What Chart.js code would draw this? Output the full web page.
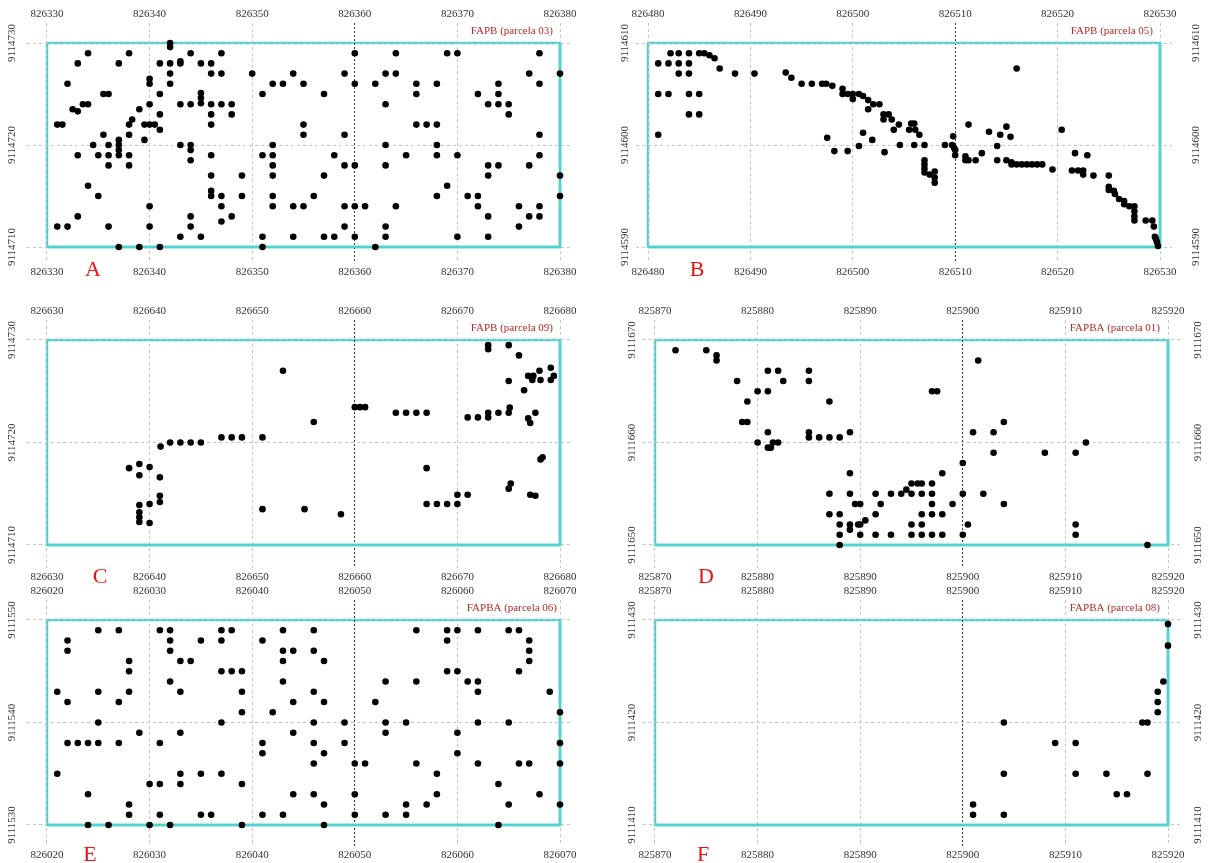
<!DOCTYPE html>
<html>
<head>
<meta charset="utf-8">
<script src="https://cdn.jsdelivr.net/npm/chart.js@4.4.0/dist/chart.umd.min.js"></script>
<style>
  body { margin: 0; background: #fff; width: 1212px; height: 863px; position: relative; overflow: hidden; }
  canvas { position: absolute; }
</style>
</head>
<body>
<canvas id="cA"></canvas>
<canvas id="cB"></canvas>
<canvas id="cC"></canvas>
<canvas id="cD"></canvas>
<canvas id="cE"></canvas>
<canvas id="cF"></canvas>
<script>
// tick labels
const ticksXA = [826330, 826340, 826350, 826360, 826370, 826380];
const ticksYA = [9114710, 9114720, 9114730];
const ticksXB = [826480, 826490, 826500, 826510, 826520, 826530];
const ticksYB = [9114590, 9114600, 9114610];
const ticksXC = [826630, 826640, 826650, 826660, 826670, 826680];
const ticksYC = [9114710, 9114720, 9114730];
const ticksXD = [825870, 825880, 825890, 825900, 825910, 825920];
const ticksYD = [9111650, 9111660, 9111670];
const ticksXE = [826020, 826030, 826040, 826050, 826060, 826070];
const ticksYE = [9111530, 9111540, 9111550];
const ticksXF = [825870, 825880, 825890, 825900, 825910, 825920];
const ticksYF = [9111410, 9111420, 9111430];

// tree positions [x, y] per plot
const parcela03 = [
  [826342,9114730],[826342,9114729.6],
  [826334,9114729],[826338,9114729],[826344,9114729],[826347,9114729],
  [826333,9114728],[826337,9114728],[826341,9114728],[826342,9114728],[826343,9114728.2],[826343,9114728],[826345,9114728],[826346,9114728],
  [826342,9114727],[826346,9114727],[826347,9114727],[826350,9114727],[826354,9114727],
  [826340,9114726.5],[826340,9114726],
  [826332,9114726],[826342,9114726],[826352,9114726],[826353,9114726],
  [826335.5,9114725],[826336,9114725],[826341,9114725],[826345,9114725.1],[826351,9114725],
  [826345,9114724.6],[826345,9114724.1],
  [826333.5,9114724],[826334,9114724],[826340,9114724],[826343,9114724],[826344,9114724],[826346,9114724],[826347,9114724],[826348,9114724],
  [826332.5,9114723.5],[826333,9114723.3],[826339,9114723.5],
  [826341,9114723],[826346,9114723],[826348,9114723],
  [826338.3,9114722.5],[826338,9114722],[826331,9114722],[826331.5,9114722],[826339.5,9114722],[826340,9114722],[826340.5,9114722],[826346,9114722],
  [826341,9114721.5],
  [826335.5,9114721],[826338,9114721],
  [826337,9114720.5],[826339.5,9114720.5],
  [826334.5,9114720],[826336,9114720],[826337,9114720],[826343,9114720],[826344,9114720],[826352,9114720],
  [826337,9114719.5],[826344,9114719.5],
  [826333,9114719],[826335,9114719],[826336,9114719],[826337,9114719],[826338,9114719],[826346,9114719],[826351,9114719],[826352,9114719],
  [826344,9114718.5],
  [826336,9114718],[826338,9114718],[826352,9114718],
  [826346,9114717],[826349,9114717],[826352,9114717],
  [826334,9114716],
  [826346,9114715.5],
  [826335,9114715],[826346,9114715],[826347,9114715],[826349,9114715],[826352,9114715],
  [826340,9114714],[826347,9114714],[826352,9114714],[826354,9114714],
  [826333,9114713],[826344,9114713],[826348,9114713],
  [826347,9114712.5],
  [826331,9114712],[826332,9114712],[826336,9114712],[826340,9114712],[826344,9114712],
  [826343,9114711],[826345,9114711],[826351,9114711],[826354,9114711],
  [826337,9114710],[826339,9114710],[826341,9114710],[826351,9114710],
  [826360,9114729],[826364,9114729],[826369,9114729],[826370,9114729],[826378,9114729],
  [826359,9114727],[826363,9114727],[826364,9114727],[826377,9114727],[826380,9114727],
  [826355,9114726],[826360,9114726],[826362,9114726],[826366,9114726],[826368,9114726],[826374,9114726],[826378,9114726],
  [826357,9114725],[826366,9114725],[826372,9114725],[826374,9114725],
  [826363,9114724],[826373,9114724],[826374,9114724],[826375,9114724],
  [826375,9114723],
  [826355,9114722],[826366,9114722],[826367,9114722],[826368,9114722],
  [826355,9114721],[826359,9114721],[826378,9114721],
  [826363,9114720],[826368,9114720],
  [826358,9114719],[826365,9114719],[826368,9114719],[826370,9114719],[826378,9114719],
  [826359,9114718],[826360,9114718],[826363,9114718],[826373,9114718],[826374,9114718],[826377,9114718],
  [826357,9114717],[826373,9114717],[826380,9114717],
  [826369,9114716],
  [826356,9114715],[826368,9114715],[826371,9114715],[826372,9114715],[826380,9114715],
  [826355,9114714],[826359,9114714],[826360,9114714],[826361,9114714],[826364,9114714],[826372,9114714],[826376,9114714],[826378,9114714],
  [826373,9114713],[826377,9114713],[826378,9114713],
  [826359,9114712],[826363,9114712],[826376,9114712],
  [826357,9114711],[826358,9114711],[826360,9114711],[826363,9114711],[826370,9114711],[826373,9114711],
  [826362,9114710]
];

const parcela05 = [
  [826482.2,9114609],[826483,9114609],[826484,9114609],[826485,9114609],[826485.5,9114609],[826486,9114608.8],[826486.5,9114608.5],
  [826481,9114608],[826482,9114608],[826483,9114608],[826484,9114608],
  [826487,9114607.5],
  [826483,9114607],[826484,9114607],[826488.5,9114607],[826490.4,9114607],[826493.45,9114607.1],[826494,9114606.6],
  [826495,9114606],[826496,9114606],[826497,9114606],[826497.4,9114606],[826498,9114605.8],
  [826499,9114605.5],
  [826499,9114605],[826499.5,9114605],[826500,9114605],[826500.6,9114605],
  [826500,9114604.5],[826501,9114604.8],[826501.5,9114604.4],
  [826502,9114604],[826502.6,9114604],
  [826501.5,9114603.5],
  [826503,9114603],[826503.5,9114603],
  [826503,9114602.5],[826503.8,9114602.5],
  [826504.5,9114602],
  [826504,9114601.5],
  [826501,9114601.2],
  [826481,9114601],
  [826497.5,9114600.7],
  [826501.9,9114600.5],
  [826504.6,9114600],
  [826500.6,9114599.9],
  [826498.2,9114599.4],[826499.5,9114599.4],
  [826503.1,9114599.3],
  [826481,9114605],[826482,9114605],[826484,9114605],[826485,9114605],[826484,9114603],[826485,9114603],
  [826516,9114607.5],
  [826505.7,9114602.1],[826506,9114602.1],[826505.5,9114601.5],[826506.1,9114601.5],[826506.5,9114601],
  [826506,9114600],[826507,9114600],[826509,9114600],
  [826509.8,9114600.85],[826509.7,9114600],[826509.9,9114599.7],[826510,9114599.5],[826510,9114599],
  [826507,9114598.5],[826507,9114598.1],[826507,9114597.7],[826507,9114597.3],[826507.5,9114597.1],[826508,9114597.4],[826508,9114596.8],[826508,9114596.3],
  [826511,9114598.9],[826511,9114598.5],[826511.3,9114598.5],[826512,9114598.5],
  [826512.6,9114599.2],
  [826511.3,9114602],
  [826513.3,9114601.3],
  [826514.1,9114598.5],
  [826514.1,9114599.9],
  [826514.4,9114601],
  [826515,9114601.8],
  [826515.4,9114600.8],
  [826515,9114598.5],
  [826515.5,9114598.3],[826515.5,9114598.1],[826516,9114598.1],[826516.5,9114598.1],[826517,9114598.1],[826517.5,9114598.1],[826518,9114598.1],[826518.5,9114598.1],
  [826519.5,9114597.6],
  [826520.4,9114601.5],
  [826521.7,9114599.2],
  [826522.9,9114599],
  [826521.4,9114597.5],[826522,9114597.5],[826522.5,9114597.5],[826522.5,9114597.1],
  [826523.5,9114597],
  [826525,9114597],
  [826525,9114595.9],[826525,9114595.6],[826525.5,9114595.5],[826525.6,9114595.2],
  [826526,9114594.7],[826526.5,9114594.5],[826526.5,9114594.2],
  [826527,9114594],[826527.5,9114594],
  [826527.5,9114593.5],[826527.5,9114593],[826527.5,9114592.6],
  [826528.6,9114592.6],[826529.25,9114592.6],[826529.4,9114592],
  [826529.5,9114591],[826529.6,9114590.8],[826529.7,9114590.5],[826529.8,9114590.1]
];

const parcela09 = [
  [826653,9114727],
  [826641.07,9114719.6],[826642,9114720],[826643,9114720],[826644,9114720],[826645,9114720],
  [826647,9114720.5],[826648,9114720.5],[826649,9114720.5],[826651,9114720.5],
  [826638,9114717.5],[826639,9114717.9],[826640,9114717.6],[826639,9114716.8],[826641,9114716.6],
  [826641,9114714.8],[826641,9114714.2],[826640,9114714],[826639,9114713.9],
  [826639,9114713.2],[826639,9114712.7],[826639,9114712.25],[826640,9114712.15],
  [826651,9114713.5],
  [826656,9114722],
  [826655.1,9114713.5],[826658.65,9114713],
  [826660,9114723.45],[826660.5,9114723.45],[826661,9114723.45],
  [826664,9114722.9],[826665,9114722.9],[826666,9114722.9],[826667,9114722.9],
  [826667,9114717.5],
  [826667,9114714],[826668,9114714],[826669,9114714],[826670,9114714],
  [826670,9114714.9],[826671,9114714.9],
  [826671,9114722.45],[826672,9114722.45],
  [826673,9114722.9],[826673,9114722.45],
  [826674,9114722.9],
  [826675,9114722.9],[826675.1,9114723.4],
  [826673,9114729.5],[826673,9114729.1],
  [826675,9114729.5],
  [826676,9114728.5],
  [826675,9114726],
  [826676.5,9114725.1],
  [826676.9,9114726.5],[826677.4,9114726.5],[826678,9114727],[826677.3,9114726.1],[826678.1,9114726.1],[826679.1,9114727.3],[826679.1,9114726.1],[826679.4,9114726.5],
  [826676.9,9114722.35],[826677.1,9114721.9],
  [826677.6,9114722.9],
  [826678.1,9114718.35],[826678.3,9114718.55],
  [826675,9114715.5],[826675.2,9114716],
  [826677.1,9114714.9],[826677.6,9114714.8]
];

const parcela01 = [
  [825872,9111669],[825875,9111669],[825876,9111668.5],[825876,9111668],
  [825878,9111666],[825879,9111664],[825878.5,9111662],[825879,9111662],
  [825880,9111665],[825881,9111665],
  [825881,9111667],[825882,9111667],[825882.5,9111666],
  [825885,9111667],[825885,9111666],
  [825887,9111664],
  [825881,9111661],[825880,9111660],[825881,9111659.5],[825881.3,9111659.5],[825881.5,9111660],[825882,9111660],
  [825885,9111661],[825885,9111660.5],[825886,9111660.5],[825887,9111660.5],[825888,9111660.5],
  [825889,9111661],
  [825889,9111657],
  [825887,9111655],[825889,9111655],[825891.5,9111655],[825893,9111655],[825894,9111655],
  [825894.5,9111655.4],
  [825889.5,9111654],[825890,9111654],[825892,9111654],
  [825887,9111653],[825888,9111653],[825891.5,9111653],
  [825890.5,9111652.4],
  [825888,9111652],[825889,9111652],[825889.8,9111652],[825890,9111652],
  [825889,9111651.5],
  [825888,9111651],[825890,9111651],[825891.5,9111651],[825893,9111651],
  [825888,9111650],
  [825901.5,9111668],
  [825897,9111665],[825897.5,9111665],
  [825904,9111662],
  [825901,9111661],[825903,9111661],
  [825912,9111660],
  [825903,9111659],[825908,9111659],[825911,9111659],
  [825900,9111658],
  [825898,9111657],
  [825895,9111656],[825895.6,9111656],[825896,9111656],[825897,9111656],
  [825895,9111655],[825896,9111655],[825897,9111655],[825900,9111655],[825902,9111655],
  [825897,9111654],[825899,9111654],[825904,9111654],
  [825896,9111653],[825897,9111653],[825898,9111653],
  [825895,9111652],[825896,9111652],[825900.5,9111652],[825911,9111652],
  [825895,9111651],[825896,9111651],[825897,9111651],[825898,9111651],[825900,9111651],[825911,9111651],
  [825918,9111650]
];

const parcela06 = [
  [826025,9111549],[826027,9111549],[826031,9111549],[826032,9111549],[826037,9111549],[826038,9111549],[826043,9111549],[826046,9111549],[826056,9111549],[826059,9111549],[826060,9111549],[826062,9111549],[826065,9111549],[826066,9111549],
  [826022,9111548],[826032,9111548],[826035,9111548],[826037,9111548],[826041,9111548],[826059,9111548],[826067,9111548],
  [826022,9111547],[826032,9111547],[826043,9111547],[826044,9111547],[826046,9111547],[826067,9111547],
  [826028,9111546],[826033,9111546],[826034,9111546],[826043,9111546],[826047,9111546],[826067,9111546],
  [826028,9111545],[826037,9111545],[826038,9111545],[826039,9111545],[826059,9111545],[826060,9111545],[826066,9111545],
  [826032,9111544],[826043,9111544],[826053,9111544],[826056,9111544],[826061,9111544],[826062,9111544],
  [826021,9111543],[826025,9111543],[826028,9111543],[826033,9111543],[826039,9111543],[826046,9111543],[826062,9111543],[826069,9111543],
  [826022,9111542],[826027,9111542],[826044,9111542],[826047,9111542],[826052,9111542],
  [826039,9111541],[826042,9111541],[826070,9111541],
  [826025,9111540],[826037,9111540],[826046,9111540],[826049,9111540],[826053,9111540],[826055,9111540],[826062,9111540],[826065,9111540],
  [826029,9111539],[826033,9111539],[826044,9111539],[826053,9111539],[826060,9111539],
  [826022,9111538],[826023,9111538],[826024,9111538],[826025,9111538],[826027,9111538],[826031,9111538],[826041,9111538],[826046,9111538],[826049,9111538],[826070,9111538],
  [826041,9111537],[826047,9111537],[826060,9111537],
  [826046,9111536],[826050,9111536],[826051,9111536],[826056,9111536],[826062,9111536],[826066,9111536],[826067,9111536],[826070,9111536],
  [826021,9111535],[826033,9111535],[826035,9111535],[826037,9111535],[826058,9111535],
  [826030,9111534],[826031,9111534],[826033,9111534],[826039,9111534],[826064,9111534],
  [826024,9111533],[826044,9111533],[826046,9111533],[826050,9111533],[826058,9111533],[826068,9111533],
  [826028,9111532],[826047,9111532],[826055,9111532],[826057,9111532],[826065,9111532],[826070,9111532],
  [826028,9111531],[826031,9111531],[826035,9111531],[826036,9111531],[826041,9111531],[826043,9111531],[826050,9111531],[826053,9111531],[826055,9111531],
  [826024,9111530],[826026,9111530],[826030,9111530],[826032,9111530],[826039,9111530],[826047,9111530],[826064,9111530]
];

const parcela08 = [
  [825920,9111429.6],[825920,9111427.5],[825919.55,9111424],[825919,9111423],[825919,9111422],[825919,9111421],
  [825917.5,9111420],[825918,9111420],[825904,9111420],
  [825909,9111418],[825911,9111418],
  [825904,9111415],[825911,9111415],[825914,9111415],[825918,9111415],
  [825915,9111413],[825916,9111413],
  [825901,9111412],[825901,9111411],[825904,9111411]
];

// layout of the six panels (page pixels)
const panels = [
  { id: 'cA', pts: parcela03, xt: ticksXA, yt: ticksYA, title: 'FAPB (parcela 03)', letter: 'A',
    box: [0, 0, 606, 292], rect: [47, 560, 43, 247], lab: [14, 272], padL: 20, yl: [12], tpos: [553, 31], lpos: [93, 270] },
  { id: 'cB', pts: parcela05, xt: ticksXB, yt: ticksYB, title: 'FAPB (parcela 05)', letter: 'B',
    box: [606, 0, 606, 292], rect: [648, 1160, 43, 247], lab: [14, 272], padL: 12, yl: [625, 1196], tpos: [1153, 31], lpos: [697, 270] },
  { id: 'cC', pts: parcela09, xt: ticksXC, yt: ticksYC, title: 'FAPB (parcela 09)', letter: 'C',
    box: [0, 293, 606, 291], rect: [47, 560, 340, 545], lab: [311, 577], padL: 20, yl: [12], tpos: [553, 328], lpos: [100, 577] },
  { id: 'cD', pts: parcela01, xt: ticksXD, yt: ticksYD, title: 'FAPBA (parcela 01)', letter: 'D',
    box: [606, 293, 606, 291], rect: [655, 1168, 340, 545], lab: [311, 577], padL: 12, yl: [632, 1198], tpos: [1160, 328], lpos: [706, 577] },
  { id: 'cE', pts: parcela06, xt: ticksXE, yt: ticksYE, title: 'FAPBA (parcela 06)', letter: 'E',
    box: [0, 584, 606, 279], rect: [47, 560, 620, 825], lab: [591, 855], padL: 20, yl: [12], tpos: [557, 608], lpos: [90, 855] },
  { id: 'cF', pts: parcela08, xt: ticksXF, yt: ticksYF, title: 'FAPBA (parcela 08)', letter: 'F',
    box: [606, 584, 606, 279], rect: [655, 1168, 620, 825], lab: [591, 855], padL: 12, yl: [632, 1198], tpos: [1160, 608], lpos: [703, 855] }
];

const SERIF = "'Liberation Serif', 'Times New Roman', serif";
const CYAN = '#4fd2cf';
Chart.defaults.font.family = SERIF;
Chart.defaults.font.size = 11;
Chart.defaults.color = '#333';

function drawPanel(p) {
  const cv = document.getElementById(p.id);
  const [bx, by, bw, bh] = p.box;
  cv.width = bw; cv.height = bh;
  cv.style.left = bx + 'px'; cv.style.top = by + 'px';

  const L = p.rect[0] - bx, R = p.rect[1] - bx, T = p.rect[2] - by, B = p.rect[3] - by;
  const cT = p.lab[0] - by + 9, cB = p.lab[1] - by - 9;
  const cL = L - p.padL, cR = R + 12;
  const xt = p.xt, yt = p.yt;
  const x0 = xt[0], x1 = xt[xt.length - 1], y0 = yt[0], y1 = yt[yt.length - 1];
  const kx = (R - L) / (x1 - x0), ky = (B - T) / (y1 - y0);
  const darkX = xt[3];

  const setX = s => { s.ticks = xt.map(v => ({ value: v })); };
  const xTicks = { padding: 2.4, maxRotation: 0, minRotation: 0, autoSkip: false, color: '#333', callback: v => String(v) };

  const deco = {
    id: 'deco',
    beforeDraw(chart) {
      const { ctx, scales: { x, y } } = chart;
      ctx.save();
      ctx.strokeStyle = CYAN;
      ctx.lineWidth = 2.5;
      const l = x.getPixelForValue(x0), r = x.getPixelForValue(x1);
      const t = y.getPixelForValue(y1), b = y.getPixelForValue(y0);
      ctx.strokeRect(l, t, r - l, b - t);
      ctx.restore();
    },
    beforeDatasetsDraw(chart) {
      const { ctx, scales: { x, y } } = chart;
      ctx.save();
      ctx.strokeStyle = CYAN;
      ctx.lineWidth = 2.5;
      const l = x.getPixelForValue(x0), r = x.getPixelForValue(x1);
      const t = y.getPixelForValue(y1), b = y.getPixelForValue(y0);
      ctx.beginPath();
      ctx.moveTo(r, t); ctx.lineTo(r, b); ctx.lineTo(l, b);
      ctx.stroke();
      ctx.restore();
    },
    afterDraw(chart) {
      const { ctx, scales: { y } } = chart;
      ctx.save();
      ctx.fillStyle = '#333';
      ctx.font = '11px ' + SERIF;
      ctx.textAlign = 'center';
      ctx.textBaseline = 'middle';
      yt.forEach(v => {
        const py = y.getPixelForValue(v);
        p.yl.forEach(lx => {
          ctx.save();
          ctx.translate(lx - bx, py);
          ctx.rotate(-Math.PI / 2);
          ctx.fillText(String(v), 0, 0);
          ctx.restore();
        });
      });
      ctx.fillStyle = '#b52a2a';
      ctx.textAlign = 'right';
      ctx.fillText(p.title, p.tpos[0] - bx, p.tpos[1] - by);
      ctx.fillStyle = '#f01010';
      ctx.font = '22px ' + SERIF;
      ctx.textAlign = 'center';
      ctx.fillText(p.letter, p.lpos[0] - bx, p.lpos[1] - by);
      ctx.restore();
    }
  };

  new Chart(cv, {
    type: 'scatter',
    data: {
      datasets: [{
        data: p.pts.map(([x, y]) => ({ x, y })),
        backgroundColor: '#000',
        borderWidth: 0,
        pointRadius: 3.3,
        pointHoverRadius: 3.3
      }]
    },
    options: {
      responsive: false,
      animation: false,
      events: [],
      layout: { padding: { left: cL, right: bw - cR, top: 0, bottom: 0 } },
      plugins: { legend: { display: false }, tooltip: { enabled: false } },
      scales: {
        x: {
          type: 'linear', position: 'bottom',
          min: x0 - (L - cL) / kx, max: x1 + (cR - R) / kx,
          afterBuildTicks: setX,
          afterFit: s => { s.height = bh - cB; },
          ticks: xTicks,
          border: { display: false, dash: c => (c.tick && c.tick.value === darkX ? [2, 2] : [3, 3]) },
          grid: {
            drawTicks: false, lineWidth: 1,
            color: c => (c.tick && c.tick.value === darkX ? '#333' : '#c4c4c4')
          }
        },
        xTop: {
          type: 'linear', position: 'top',
          min: x0 - (L - cL) / kx, max: x1 + (cR - R) / kx,
          afterBuildTicks: setX,
          afterFit: s => { s.height = cT; },
          ticks: xTicks,
          border: { display: false },
          grid: { display: false, drawTicks: false }
        },
        y: {
          type: 'linear', position: 'left',
          min: y0 - (cB - B) / ky, max: y1 + (T - cT) / ky,
          afterBuildTicks: s => { s.ticks = yt.map(v => ({ value: v })); },
          afterFit: s => { s.width = 0; },
          ticks: { display: false },
          border: { display: false, dash: [3, 3] },
          grid: { drawTicks: false, lineWidth: 1, color: '#c4c4c4' }
        }
      }
    },
    plugins: [deco]
  });
}

panels.forEach(drawPanel);
</script>
</body>
</html>
